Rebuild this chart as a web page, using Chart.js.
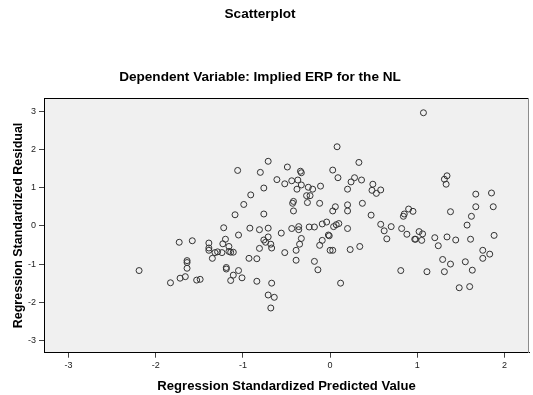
<!DOCTYPE html>
<html>
<head>
<meta charset="utf-8">
<script src="https://cdn.jsdelivr.net/npm/chart.js@4.4.1/dist/chart.umd.min.js"></script>
<style>
  html, body { margin: 0; padding: 0; background: #fff; }
</style>
</head>
<body>
<canvas id="chart" width="533" height="395"></canvas>
<script>
// Regression Standardized Predicted Value (x) for each case
const predicted = [
  0.08, -0.71, -1.06, -0.80, -0.49, -0.34, -0.33, 0.03, -0.61, -0.52,
  -0.44, -0.37, -0.33, -0.38, -0.25, -0.20, -0.11, 0.09, 0.20, 0.24,
  0.28, 0.33, -0.76, -0.91, -0.99, -1.09, -0.76, -0.43, -0.42, -0.42,
  -0.26, -0.27, -0.23, -0.12, 0.06, 0.03, 0.20, 0.20, -1.22, -0.92,
  -0.81, -0.71, -1.05, -0.56, -0.44, -0.36, -0.36, -0.24, -0.18, -0.09,
  -0.04, 0.04, 0.07, 0.10, 0.20, -0.02, -0.01, -0.33, -0.12, -0.09,
  -0.35, -0.71, -0.76, -0.74, -0.68, -1.20, -1.23, -1.39, -1.16, -1.39,
  -1.39, -1.29, -1.32, -1.24, -1.16, -1.14, -1.11, -1.35, -0.67, -0.81,
  -0.52, -0.39, -0.39, 0.00, 0.03, 0.23, 0.34, -0.18, -0.14, -0.93,
  -0.84, -1.19, -1.19, -1.05, -1.11, -1.01, -1.14, -0.84, -0.67, -1.49,
  -0.71, -0.64, -0.68, 0.12, -1.73, -1.58, -1.64, -1.64, -1.64, -2.19,
  -1.72, -1.66, -1.83, -1.53, 1.07, 0.36, 0.49, 0.48, 0.53, 0.58,
  0.37, 0.47, 1.31, 1.34, 1.33, 1.67, 1.85, 1.67, 1.87, 1.38,
  1.62, 1.57, 0.84, 0.85, 0.90, 0.95, 0.58, 0.70, 0.62, 0.65,
  0.82, 0.88, 1.02, 1.06, 0.97, 0.98, 1.05, 1.20, 1.24, 1.34,
  1.44, 1.61, 1.88, 1.75, 1.83, 1.75, 1.29, 1.38, 1.55, 1.63,
  0.81, 1.11, 1.31, 1.48, 1.60
];

// Regression Standardized Residual (y), same order
const residuals = [
  2.07, 1.69, 1.45, 1.40, 1.54, 1.43, 1.39, 1.46, 1.21, 1.10,
  1.18, 1.20, 1.07, 0.96, 1.01, 0.96, 1.04, 1.26, 0.96, 1.15,
  1.26, 1.66, 0.99, 0.81, 0.56, 0.29, 0.31, 0.59, 0.64, 0.39,
  0.61, 0.79, 0.79, 0.59, 0.50, 0.39, 0.55, 0.39, -0.05, -0.06,
  -0.10, -0.06, -0.24, -0.19, -0.07, -0.02, -0.10, -0.03, -0.03, 0.05,
  0.10, -0.02, 0.03, 0.06, -0.07, -0.24, -0.26, -0.33, -0.51, -0.38,
  -0.48, -0.29, -0.37, -0.43, -0.48, -0.35, -0.47, -0.45, -0.54, -0.58,
  -0.64, -0.68, -0.70, -0.70, -0.67, -0.69, -0.69, -0.85, -0.58, -0.59,
  -0.70, -0.64, -0.90, -0.64, -0.64, -0.62, -0.54, -0.93, -1.15, -0.85,
  -0.86, -1.09, -1.13, -1.17, -1.29, -1.36, -1.43, -1.45, -1.50, -1.40,
  -1.81, -1.87, -2.15, -1.50, -0.43, -0.39, -0.91, -0.96, -1.11, -1.17,
  -1.37, -1.33, -1.49, -1.42, 2.96, 1.20, 1.09, 0.93, 0.85, 0.94,
  0.59, 0.28, 1.22, 1.31, 1.09, 0.83, 0.86, 0.50, 0.50, 0.37,
  0.25, 0.02, 0.25, 0.31, 0.44, 0.38, 0.04, -0.02, -0.13, -0.34,
  -0.07, -0.22, -0.15, -0.21, -0.35, -0.35, -0.38, -0.31, -0.52, -0.29,
  -0.37, -0.35, -0.25, -0.64, -0.74, -0.85, -0.88, -1.00, -0.94, -1.16,
  -1.17, -1.20, -1.20, -1.62, -1.59
];

// tick labels shown on each axis
const xTicks = [-3, -2, -1, 0, 1, 2];
const yTicks = [-3, -2, -1, 0, 1, 2, 3];

const points = predicted.map((v, i) => ({ x: v, y: residuals[i] }));

Chart.defaults.font.family = '"Liberation Sans", Arial, sans-serif';

// grey plot background + top/right frame lines (SPSS look)
const plotFrame = {
  id: 'plotFrame',
  beforeDraw(chart) {
    const { ctx, chartArea: a } = chart;
    ctx.save();
    ctx.fillStyle = '#f0f0f0';
    ctx.fillRect(a.left, a.top, a.right - a.left, a.bottom - a.top);
    ctx.restore();
  },
  afterDraw(chart) {
    const { ctx, chartArea: a } = chart;
    ctx.save();
    ctx.lineWidth = 1;
    ctx.strokeStyle = '#000';
    ctx.beginPath();
    ctx.moveTo(Math.round(a.left), Math.round(a.top) + 0.5);
    ctx.lineTo(Math.round(a.right), Math.round(a.top) + 0.5);
    ctx.stroke();
    ctx.strokeStyle = '#8c8c8c';
    ctx.beginPath();
    ctx.moveTo(Math.round(a.right) - 0.5, Math.round(a.top));
    ctx.lineTo(Math.round(a.right) - 0.5, Math.round(a.bottom));
    ctx.stroke();
    ctx.restore();
  }
};

// titles are centred a little left of the canvas middle
const titleCentre = {
  id: 'titleCentre',
  afterLayout(chart) {
    chart.boxes.forEach(b => {
      if (b.position === 'top' && b.options && typeof b.options.text === 'string') {
        b.right = b.left + 520;
      }
    });
  }
};

new Chart(document.getElementById('chart'), {
  type: 'scatter',
  data: {
    datasets: [{
      data: points,
      pointStyle: 'circle',
      pointRadius: 3,
      pointHoverRadius: 3,
      borderWidth: 1,
      borderColor: '#333',
      backgroundColor: 'rgba(0,0,0,0)'
    }]
  },
  options: {
    responsive: false,
    animation: false,
    layout: { padding: { left: 0, right: 3, top: 0, bottom: 0 } },
    plugins: {
      legend: { display: false },
      tooltip: { enabled: false },
      title: {
        display: true,
        text: 'Scatterplot',
        color: '#000',
        font: { size: 13.6, weight: 'bold' },
        padding: { top: 5.9, bottom: 46.6 }
      },
      subtitle: {
        display: true,
        text: 'Dependent Variable: Implied ERP for the NL',
        color: '#000',
        font: { size: 13.6, weight: 'bold' },
        padding: { top: 0, bottom: 13.1 }
      }
    },
    scales: {
      x: {
        type: 'linear',
        min: -3.28,
        max: 2.28,
        afterBuildTicks: s => { s.ticks = xTicks.map(v => ({ value: v })); },
        afterFit: s => { s.height = 42.3; },
        border: { display: true, color: '#000', width: 1 },
        grid: { drawOnChartArea: false, drawTicks: true, tickLength: 5, color: '#444' },
        ticks: { color: '#222', font: { size: 9 }, padding: 2 },
        title: {
          display: true,
          text: 'Regression Standardized Predicted Value',
          color: '#000',
          font: { size: 13.1, weight: 'bold' },
          padding: { top: 0, bottom: 0.6 }
        }
      },
      y: {
        type: 'linear',
        min: -3.32,
        max: 3.34,
        afterBuildTicks: s => { s.ticks = yTicks.map(v => ({ value: v })); },
        afterFit: s => { s.width = 44; },
        border: { display: true, color: '#000', width: 1 },
        grid: { drawOnChartArea: false, drawTicks: true, tickLength: 5, color: '#444' },
        ticks: { color: '#222', font: { size: 9 }, padding: 3 },
        title: {
          display: true,
          text: 'Regression Standardized Residual',
          color: '#000',
          font: { size: 12.5, weight: 'bold' },
          padding: { top: 11.5, bottom: 0 }
        }
      }
    }
  },
  plugins: [plotFrame, titleCentre]
});
</script>
</body>
</html>
